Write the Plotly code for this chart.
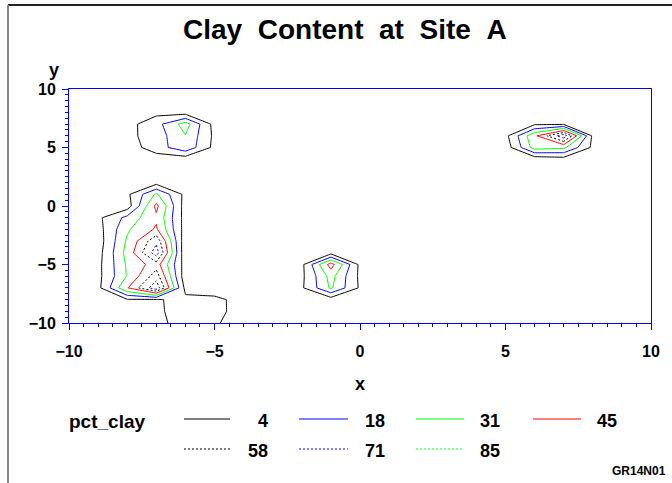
import plotly.graph_objects as go

# ---------------- data (grid) ----------------
x_vals = list(range(-10, 11))
y_vals = list(range(-10, 11))

# pct_clay on the grid, one row per y (from y=-10 up to y=10), columns x=-10..10
z_rows = [
    [0, 0, 0, 3, 5.5, 5, 0, 0, 0, 0, 0, 0, 0, 0, 0, 0, 0, 0, 0, 0, 0],          # y=-10
    [0, 0, 0, 3, 6.5, 6.5, 0.5, 0, 0, 0, 0, 0, 0, 0, 0, 0, 0, 0, 0, 0, 0],      # y=-9
    [0, 0, 3, 3, 7, 5.7, 1.5, 0, 0, -3, 0, 0, 0, 0, 0, 0, 0, 0, 0, 0, 0],       # y=-8
    [0, 0, 44, 80, 0, 0, 0, 0, 2, 33, 2, 0, 0, 0, 0, 0, 0, 0, 0, 0, 0],         # y=-7
    [0, 0, 32, 65, -5, 0, 0, 0, 1, 36, 1, 0, 0, 0, 0, 0, 0, 0, 0, 0, 0],        # y=-6
    [0, 0, 33, 52, -3, 0, 0, 0, 0.5, 51, 0.5, 0, 0, 0, 0, 0, 0, 0, 0, 0, 0],    # y=-5
    [0, -1.5, 36, 78, -7, 0, 0, 0, 0, -1, 0, 0, 0, 0, 0, 0, 0, 0, 0, 0, 0],     # y=-4
    [0, -3, 33, 68, -5.6, 0, 0, 0, 0, 0, 0, 0, 0, 0, 0, 0, 0, 0, 0, 0, 0],      # y=-3
    [0, -1.5, 29, 47, -2.4, 0, 0, 0, 0, 0, 0, 0, 0, 0, 0, 0, 0, 0, 0, 0, 0],    # y=-2
    [0, 1, 22, 42.3, -1.9, 0, 0, 0, 0, 0, 0, 0, 0, 0, 0, 0, 0, 0, 0, 0, 0],     # y=-1
    [0, -1, -3.4, 48.6, -2.7, 0, 0, 0, 0, 0, 0, 0, 0, 0, 0, 0, 0, 0, 0, 0, 0],  # y=0
    [0, 0, 1, 33, 0, 0, 0, 0, 0, 0, 0, 0, 0, 0, 0, 0, 0, 0, 0, 0, 0],           # y=1
    [0, 0, 0, -1, 0, 0, 0, 0, 0, 0, 0, 0, 0, 0, 0, 0, 0, 0, 0, 0, 0],           # y=2
    [0, 0, 0, 0, 0, 0, 0, 0, 0, 0, 0, 0, 0, 0, 0, 0, 0, 0, 0, 0, 0],            # y=3
    [0, 0, 0, -3, -4, 0, 0, 0, 0, 0, 0, 0, 0, 0, 0, 0, -5, -2, 0, 0, 0],        # y=4
    [0, 0, -3, 11, 28, 0, 0, 0, 0, 0, 0, 0, 0, 0, 0, -4, 37, 34, 1, 0, 0],      # y=5
    [0, 0, 0, 11, 30.5, 1, 0, 0, 0, 0, 0, 0, 0, 0, 0, 0, 42, 80, 1, 0, 0],      # y=6
    [0, 0, -1, 13, 37, -1, 0, 0, 0, 0, 0, 0, 0, 0, 0, 0, 2, 2, 0, 0, 0],        # y=7
    [0, 0, 0, 0, -2, 0, 0, 0, 0, 0, 0, 0, 0, 0, 0, 0, 0, 0, 0, 0, 0],           # y=8
    [0, 0, 0, 0, 0, 0, 0, 0, 0, 0, 0, 0, 0, 0, 0, 0, 0, 0, 0, 0, 0],            # y=9
    [0, 0, 0, 0, 0, 0, 0, 0, 0, 0, 0, 0, 0, 0, 0, 0, 0, 0, 0, 0, 0],            # y=10
]

levels = [4, 18, 31, 45, 58, 71, 85]
level_labels = ["4", "18", "31", "45", "58", "71", "85"]
x_ticks = [-10, -5, 0, 5, 10]
y_ticks = [-10, -5, 0, 5, 10]

# ---------------- styles ----------------
level_colors = ["#000000", "#0000ff", "#00ff00", "#ff0000", "#000000", "#0000ff", "#00ff00"]
level_dashes = ["solid", "solid", "solid", "solid", "2px,2px", "2px,2px", "2px,2px"]

W, H = 672, 483
L, R, T, B = 69, 21, 89, 160
PW, PH = W - L - R, H - T - B
FONT = "Liberation Sans, Arial, Helvetica, sans-serif"
BLUE = "#0000ff"


def px_x(px):
    return (px - L) / PW


def px_y(py):
    return (H - B - py) / PH


fig = go.Figure()
for lev, col, dash in zip(levels, level_colors, level_dashes):
    fig.add_trace(go.Contour(
        x=x_vals, y=y_vals, z=z_rows,
        autocontour=False,
        contours=dict(start=lev, end=lev, size=1, coloring="none", showlines=True),
        line=dict(color=col, width=1, dash=dash, smoothing=0),
        showscale=False, showlegend=False, hoverinfo="skip",
    ))

axis_common = dict(
    showgrid=False, zeroline=False,
    showline=True, linecolor=BLUE, linewidth=1, mirror=True,
    ticks="outside", ticklen=6, tickwidth=1, tickcolor=BLUE,
    tickfont=dict(family=FONT, size=16, color="black", weight="bold"),
    minor=dict(ticks="outside", ticklen=3, tickwidth=1, tickcolor=BLUE, dtick=0.5),
)

fig.update_layout(
    width=W, height=H,
    margin=dict(l=L, r=R, t=T, b=B, pad=0),
    paper_bgcolor="white", plot_bgcolor="white",
    showlegend=False,
    xaxis=dict(range=[-10, 10], tickvals=x_ticks, ticklabelstandoff=8, **axis_common),
    yaxis=dict(range=[-10, 10], tickvals=y_ticks, ticklabelstandoff=3, **axis_common),
)

annotations = []


def add_text(text, px, py, size, xanchor="center", yanchor="middle"):
    annotations.append(dict(
        text=text, x=px_x(px), y=px_y(py), xref="paper", yref="paper",
        xanchor=xanchor, yanchor=yanchor, showarrow=False,
        font=dict(family=FONT, size=size, color="black", weight="bold"),
    ))


NB = "\u00a0"
add_text(f"Clay{NB}{NB}Content{NB}{NB}at{NB}{NB}Site{NB}{NB}A", 345, 29, 28)
add_text("y", 54, 70, 18)
add_text("x", 360, 384, 18)
add_text("pct_clay", 147, 421, 19, xanchor="right")
add_text("GR14N01", 668, 471, 12, xanchor="right")

shapes = []
# legend: row 1 four entries, row 2 three entries
legend_line_x = [(184, 230), (299, 348), (416, 464), (533, 581)]
legend_label_right = [270, 387, 502, 619]
for i, lab in enumerate(level_labels):
    row, col = divmod(i, 4)
    line_y = 419 + row * 30
    x0, x1 = legend_line_x[col]
    shapes.append(dict(type="line", xref="paper", yref="paper",
                       x0=px_x(x0), x1=px_x(x1), y0=px_y(line_y), y1=px_y(line_y),
                       line=dict(color=level_colors[i], width=1, dash=level_dashes[i])))
    add_text(lab, legend_label_right[col], line_y + 2, 18, xanchor="right")

# outer frame (top and left edges)
shapes.append(dict(type="line", xref="paper", yref="paper",
                   x0=px_x(8), x1=px_x(672), y0=px_y(5), y1=px_y(5),
                   line=dict(color="#222222", width=2)))
shapes.append(dict(type="line", xref="paper", yref="paper",
                   x0=px_x(8), x1=px_x(8), y0=px_y(5), y1=px_y(483),
                   line=dict(color="#8a8a8a", width=2)))

fig.update_layout(annotations=annotations, shapes=shapes)
fig.write_html("out.html",
               config={"displayModeBar": False, "staticPlot": True},
               post_script="document.body.style.margin='0';document.body.style.overflow='hidden';")
